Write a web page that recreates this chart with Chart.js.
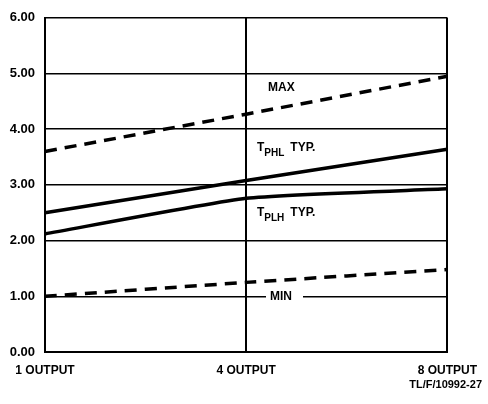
<!DOCTYPE html>
<html>
<head>
<meta charset="utf-8">
<script src="https://cdn.jsdelivr.net/npm/chart.js@4.4.0/dist/chart.umd.min.js"></script>
<style>
  body { margin: 0; background: #fff; }
  #wrap { width: 488px; height: 404px; }
</style>
</head>
<body>
<div id="wrap"><canvas id="myChart" width="488" height="404"></canvas></div>
<script>
const outputs = ["1 OUTPUT", "4 OUTPUT", "8 OUTPUT"];
const maxValues = [3.6, 4.27, 4.95];
const tphlValues = [2.5, 3.08, 3.64];
const tplhValues = [2.12, 2.76, 2.93];
const minValues = [1.0, 1.25, 1.48];
const yTicks = [0, 1, 2, 3, 4, 5, 6];

const font = "bold 12px 'Liberation Sans', Arial, sans-serif";

// text labels written on the plot
const notes = {
  id: "notes",
  afterDraw(chart) {
    const c = chart.ctx;
    c.save();
    c.fillStyle = "#000";
    c.textBaseline = "middle";
    c.font = font;
    c.fillText("MAX", 268, 88);

    function sub(main, s, x, y) {
      c.font = "bold 12px 'Liberation Sans', Arial, sans-serif";
      c.fillText("T", x, y - 2);
      let w = c.measureText("T").width;
      c.font = "bold 10px 'Liberation Sans', Arial, sans-serif";
      c.fillText(s, x + w, y + 3);
      let w2 = c.measureText(s).width;
      c.font = font;
      c.fillText(main, x + w + w2 + 6, y - 2);
    }
    sub("TYP.", "PHL", 257, 150);
    sub("TYP.", "PLH", 257, 215);

    // MIN sits over the 1.00 grid line
    const y1 = chart.scales.y.getPixelForValue(1);
    c.fillStyle = "#fff";
    c.fillRect(266, y1 - 7, 37, 14);
    c.fillStyle = "#000";
    c.fillText("MIN", 270, y1);

    c.textAlign = "right";
    c.font = "bold 11px 'Liberation Sans', Arial, sans-serif";
    c.fillText("TL/F/10992-27", 482, 385);
    c.restore();
  }
};

new Chart(document.getElementById("myChart"), {
  type: "line",
  data: {
    labels: outputs,
    datasets: [
      { label: "MAX", data: maxValues, borderColor: "#000", borderWidth: 3.5, borderDash: [12, 8], pointRadius: 0, tension: 0 },
      { label: "TPHL TYP.", data: tphlValues, borderColor: "#000", borderWidth: 3.5, pointRadius: 0, tension: 0 },
      { label: "TPLH TYP.", data: tplhValues, borderColor: "#000", borderWidth: 3.5, pointRadius: 0, tension: 0.15 },
      { label: "MIN", data: minValues, borderColor: "#000", borderWidth: 3.5, borderDash: [12, 8], pointRadius: 0, tension: 0.15 }
    ]
  },
  options: {
    responsive: false,
    animation: false,
    layout: { padding: { top: 15, right: 39, left: 0, bottom: 0 } },
    plugins: { legend: { display: false }, tooltip: { enabled: false } },
    scales: {
      x: {
        offset: false,
        border: { color: "#000", width: 2 },
        grid: { color: "#000", lineWidth: 2, drawTicks: false },
        ticks: { color: "#000", font: { family: "'Liberation Sans', Arial, sans-serif", size: 12, weight: "bold" }, padding: 11, maxRotation: 0 },
        afterFit(s) { s.height = 52; }
      },
      y: {
        min: 0,
        max: 6,
        afterBuildTicks(s) { s.ticks = yTicks.map(v => ({ value: v })); },
        border: { color: "#000", width: 2 },
        grid: { color: "#000", lineWidth: 1.5, drawTicks: false },
        ticks: { color: "#000", font: { family: "'Liberation Sans', Arial, sans-serif", size: 13, weight: "bold" }, padding: 10, callback: v => v.toFixed(2) },
        afterFit(s) { s.width = 45; }
      }
    }
  },
  plugins: [notes]
});
</script>
</body>
</html>
